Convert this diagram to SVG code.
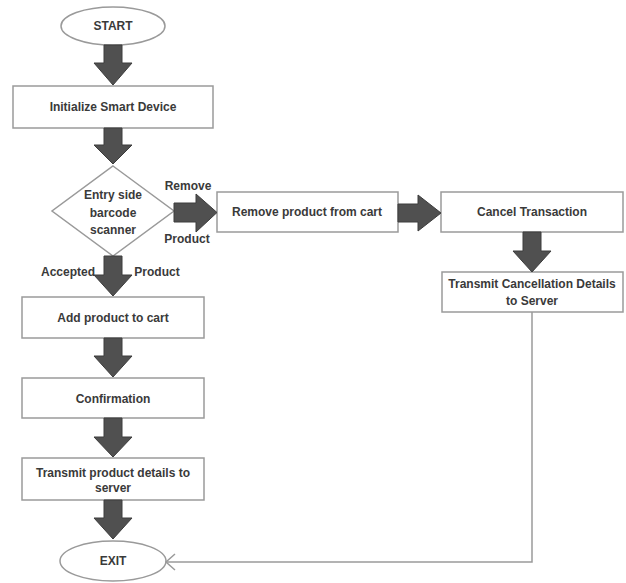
<svg xmlns="http://www.w3.org/2000/svg" width="626" height="583" viewBox="0 0 626 583">
<style>
.box{fill:#fff;stroke:#9a9a9a;stroke-width:1.5}
.t{font-family:"Liberation Sans",Arial,sans-serif;font-size:12px;font-weight:bold;fill:#3a3a3a;text-anchor:middle}
.arr{fill:#505050;stroke:#3c3c3c;stroke-width:1}
.line{fill:none;stroke:#9a9a9a;stroke-width:1.5}
</style>
<rect width="626" height="583" fill="#fff"/>
<g id="start"><ellipse class="box" cx="113" cy="26" rx="52" ry="19"/><text class="t" x="113" y="30">START</text></g>
<g id="init"><rect class="box" x="13" y="86" width="200" height="42"/><text class="t" x="113" y="111">Initialize Smart Device</text></g>
<g id="scanner"><polygon class="box" points="113,166 174,211 113,256 52,211"/><text class="t" x="113" y="199">Entry side</text><text class="t" x="113" y="217">barcode</text><text class="t" x="113" y="234">scanner</text></g>
<g id="remove"><rect class="box" x="217" y="192" width="181" height="40"/><text class="t" x="307" y="216">Remove product from cart</text></g>
<g id="cancel"><rect class="box" x="441" y="192" width="182" height="40"/><text class="t" x="532" y="216">Cancel Transaction</text></g>
<g id="transmitcancel"><rect class="box" x="442" y="272" width="181" height="40"/><text class="t" x="532" y="288">Transmit Cancellation Details</text><text class="t" x="532" y="305">to Server</text></g>
<g id="add"><rect class="box" x="22" y="297" width="182" height="41"/><text class="t" x="113" y="322">Add product to cart</text></g>
<g id="confirm"><rect class="box" x="22" y="378" width="182" height="40"/><text class="t" x="113" y="403">Confirmation</text></g>
<g id="transmitproduct"><rect class="box" x="22" y="458" width="182" height="42"/><text class="t" x="113" y="477">Transmit product details to</text><text class="t" x="113" y="492">server</text></g>
<g id="exit"><ellipse class="box" cx="113" cy="561" rx="53" ry="20"/><text class="t" x="113" y="565">EXIT</text></g>
<g id="connectors">
<polygon class="arr" points="104,45 122,45 122,63 132,63 113,85 94,63 104,63"/>
<polygon class="arr" points="104,128 122,128 122,145 132,145 113,164 94,145 104,145"/>
<polygon class="arr" points="104,256 122,256 122,275 132,275 113,296 94,275 104,275"/>
<polygon class="arr" points="104,338 122,338 122,356 132,356 113,377 94,356 104,356"/>
<polygon class="arr" points="104,418 122,418 122,437 132,437 113,457 94,437 104,437"/>
<polygon class="arr" points="104,500 122,500 122,518 132,518 113,539 94,518 104,518"/>
<polygon class="arr" points="174,203 196,203 196,194 217,212.5 196,232 196,222 174,222"/>
<polygon class="arr" points="398,204 418,204 418,195 441,213 418,231 418,222 398,222"/>
<polygon class="arr" points="523,232 541,232 541,251 551,251 532,272 513,251 523,251"/>
<polyline class="line" points="532,312 532,562 167,562"/>
<polyline class="line" points="175,554 166,562 175,570"/>
<text class="t" x="188" y="190">Remove</text>
<text class="t" x="187" y="243">Product</text>
<text class="t" x="68" y="276">Accepted</text>
<text class="t" x="157" y="276">Product</text>
</g>
</svg>
